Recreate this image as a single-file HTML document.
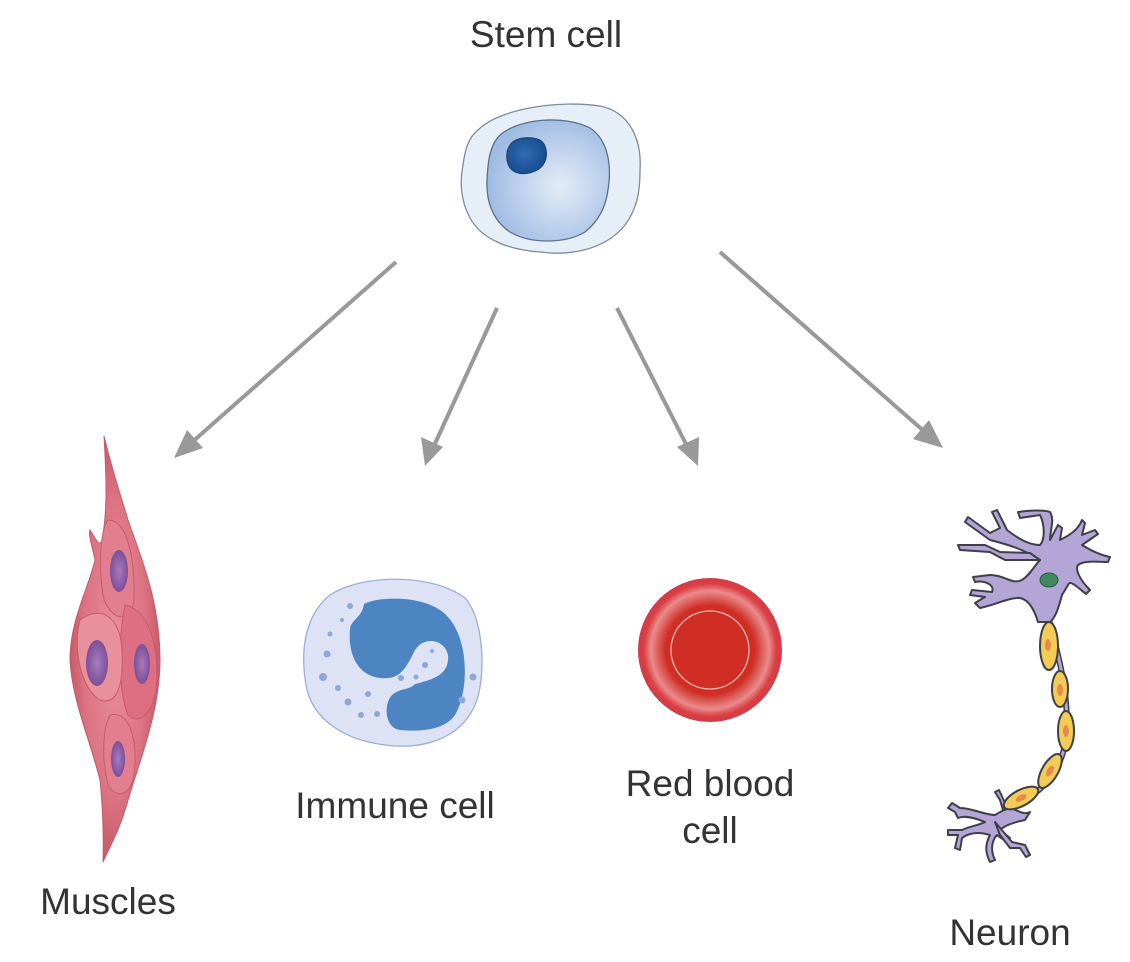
<!DOCTYPE html>
<html><head><meta charset="utf-8"><style>
html,body{margin:0;padding:0;background:#fff;}
svg{display:block;}
text{font-family:"Liberation Sans",sans-serif;font-size:37px;fill:#333;}
</style></head><body>
<svg width="1130" height="962" viewBox="0 0 1130 962" xmlns="http://www.w3.org/2000/svg">
<defs>
<radialGradient id="inner" cx="0.6" cy="0.55" r="0.6">
<stop offset="0" stop-color="#e3ecf8"/><stop offset="1" stop-color="#9ebbe2"/></radialGradient>
<radialGradient id="nuc" cx="0.45" cy="0.45" r="0.6">
<stop offset="0" stop-color="#2f6cb5"/><stop offset="1" stop-color="#174a8c"/></radialGradient>
<radialGradient id="rbc" cx="0.5" cy="0.5" r="0.5">
<stop offset="0" stop-color="#d02e24"/><stop offset="0.62" stop-color="#d02e24"/><stop offset="0.82" stop-color="#e98b8c"/><stop offset="0.92" stop-color="#da3f44"/><stop offset="1" stop-color="#d43a48"/></radialGradient>
<radialGradient id="mus" cx="0.5" cy="0.5" r="0.5">
<stop offset="0" stop-color="#e8909c"/><stop offset="0.7" stop-color="#dc7382"/><stop offset="1" stop-color="#c85a69"/></radialGradient>
<radialGradient id="mnuc" cx="0.5" cy="0.5" r="0.5">
<stop offset="0" stop-color="#a77bbd"/><stop offset="1" stop-color="#7d4f99"/></radialGradient>
</defs>

<text x="546" y="47" text-anchor="middle">Stem cell</text>
<path d="M478 130 C500 108,560 100,600 106 C630 112,642 140,640 170 C640 195,636 210,625 225 C605 250,570 256,540 252 C510 250,482 240,470 218 C460 200,460 180,463 165 C465 150,468 138,478 130 Z" fill="#e6eef8" stroke="#7f8b99" stroke-width="1.3"/>
<path d="M500 135 C520 118,565 115,590 128 C608 140,612 165,608 190 C606 205,600 220,585 232 C565 244,530 244,510 232 C492 220,486 200,487 180 C488 160,490 145,500 135 Z" fill="url(#inner)" stroke="#5c6f88" stroke-width="1.3"/>
<path d="M510 145 C515 137,530 136,540 140 C548 145,548 158,543 165 C538 172,525 176,515 172 C505 167,505 152,510 145 Z" fill="url(#nuc)" stroke="#1d3f6e" stroke-width="1"/>

<g stroke="#999" stroke-width="4" fill="#999">
<line x1="396" y1="262" x2="190" y2="444"/>
<line x1="497" y1="308" x2="433" y2="448"/>
<line x1="617" y1="308" x2="688" y2="448"/>
<line x1="720" y1="252" x2="926" y2="433"/>
</g>
<g fill="#999">
<polygon points="174,458 187,430 203,448"/>
<polygon points="425,466 421,437 443,447"/>
<polygon points="698,466 677,447 699,437"/>
<polygon points="943,448 913,439 929,420"/>
</g>

<path d="M104 436 C112 470,122 500,128 520 C140 555,160 600,160 660 C160 710,140 760,128 800 C120 830,108 850,103 862 C104 830,102 800,100 780 C90 740,72 700,70 660 C70 620,88 590,95 560 C92 545,88 535,90 530 C96 540,100 548,102 540 C108 510,106 470,104 436 Z" fill="url(#mus)" stroke="#c55a6a" stroke-width="1"/>
<path d="M108 520 C125 520,135 550,134 600 C132 620,115 625,104 600 C98 570,100 530,108 520 Z" fill="#e27f8f" stroke="#c55a6a" stroke-width="1"/>
<path d="M125 605 C150 610,160 650,156 690 C152 715,138 725,128 715 C118 690,118 640,125 605 Z" fill="#de6f82" stroke="#c55a6a" stroke-width="1"/>
<path d="M80 620 C100 605,120 615,122 650 C124 690,115 705,100 700 C82 690,72 650,80 620 Z" fill="#e8909c" stroke="#c55a6a" stroke-width="1"/>
<path d="M110 715 C130 710,138 740,134 775 C130 795,118 800,108 785 C102 760,102 730,110 715 Z" fill="#e27f8f" stroke="#c55a6a" stroke-width="1"/>
<ellipse cx="119" cy="571" rx="9" ry="21" fill="url(#mnuc)"/>
<ellipse cx="97" cy="663" rx="11" ry="23" fill="url(#mnuc)"/>
<ellipse cx="142" cy="664" rx="8" ry="20" fill="url(#mnuc)"/>
<ellipse cx="118" cy="759" rx="7" ry="18" fill="url(#mnuc)"/>
<text x="108" y="914" text-anchor="middle">Muscles</text>

<path d="M330 595 C360 575,430 572,465 598 C485 620,486 680,475 705 C460 740,420 750,385 745 C345 740,312 720,306 685 C300 650,305 615,330 595 Z" fill="#dde3f5" stroke="#9aaedc" stroke-width="1.3"/>
<path d="M364 604 C380 596,420 596,440 610 C470 630,470 690,455 715 C445 730,420 732,400 730 C385 728,383 705,392 695 C400 688,410 690,415 684 C430 680,450 676,448 655 C445 640,425 635,415 650 C405 670,400 680,380 678 C355 675,348 650,350 630 C350 620,362 618,364 604 Z" fill="#4d85c2"/>
<g fill="#8fa7d6">
<circle cx="350" cy="606" r="3"/><circle cx="330" cy="634" r="2.5"/><circle cx="327" cy="654" r="3.5"/><circle cx="323" cy="677" r="4"/><circle cx="338" cy="688" r="3"/><circle cx="348" cy="702" r="3.5"/><circle cx="361" cy="715" r="3"/><circle cx="368" cy="694" r="3"/><circle cx="377" cy="714" r="3"/><circle cx="401" cy="678" r="3"/><circle cx="416" cy="677" r="2.5"/><circle cx="425" cy="665" r="3"/><circle cx="432" cy="651" r="2"/><circle cx="473" cy="677" r="3.5"/><circle cx="462" cy="700" r="3.5"/><circle cx="342" cy="620" r="2"/>
</g>
<text x="395" y="818" text-anchor="middle">Immune cell</text>

<circle cx="710" cy="650" r="72" fill="url(#rbc)"/>
<circle cx="710" cy="650" r="39" fill="none" stroke="#f0b6b0" stroke-width="1.3"/>
<text x="710" y="796" text-anchor="middle">Red blood</text>
<text x="710" y="843" text-anchor="middle">cell</text>

<g stroke="#3f3f48" stroke-width="2" stroke-linejoin="round" fill="#b3a6d6">
<path d="M1049 620 C1060 660,1070 700,1066 740 C1060 775,1040 795,1008 808" fill="none" stroke="#3f3f48" stroke-width="6"/>
<path d="M1049 620 C1060 660,1070 700,1066 740 C1060 775,1040 795,1008 808" fill="none" stroke="#b3a6d6" stroke-width="3"/>
<path d="M1040 560 C1025 550,1010 545,990 540 L965 522 L968 517 L990 533 L1000 528 L992 512 L997 510 L1007 530 C1020 540,1030 545,1040 545 C1045 540,1045 525,1040 515 L1020 518 L1018 512 C1030 510,1045 510,1050 512 C1055 520,1050 530,1050 540 L1058 525 L1062 528 L1060 540 C1070 535,1078 530,1082 520 L1085 523 L1082 535 L1095 530 L1098 534 L1082 545 C1090 550,1100 555,1110 557 L1108 562 C1095 562,1085 560,1078 565 C1075 570,1080 580,1090 590 L1086 594 C1075 585,1070 580,1068 585 L1062 595 C1058 610,1055 618,1050 622 L1038 622 C1035 612,1030 600,1020 598 C1010 597,995 605,980 608 L975 603 L985 597 L970 595 L972 590 L992 592 C995 585,985 580,975 582 L973 577 L990 575 C1005 575,1012 585,1022 580 C1030 575,1035 565,1040 560 Z"/>
<path d="M1040 560 L1005 560 L990 552 L960 550 L958 545 L985 545 L1000 552 L1030 553 Z"/>
<path d="M1011 808 C1020 812,1025 815,1030 812 L1025 820 C1015 822,1005 825,1000 830 L1010 838 L1007 842 L997 835 C992 840,990 850,995 860 L990 862 C985 852,985 845,990 835 C980 832,970 832,962 838 L960 850 L955 848 L958 835 L948 835 L948 830 L962 830 C970 826,980 825,985 822 C975 818,965 815,958 818 L955 812 L948 808 L952 803 L960 808 C972 808,985 815,995 815 C1000 812,1005 809,1011 808 Z"/>
<path d="M995 822 L1012 842 L1025 845 L1030 855 L1026 857 L1020 848 L1010 848 L1000 835 Z"/>
<path d="M1003 810 L1000 800 L995 792 L999 790 L1006 805 Z"/>
</g>
<g stroke="#3f3f48" stroke-width="2" fill="#f3cc55">
<ellipse cx="1049" cy="646" rx="9" ry="24"/>
<ellipse cx="1060" cy="689" rx="8" ry="18"/>
<ellipse cx="1066" cy="731" rx="8" ry="20"/>
<ellipse cx="1050" cy="771" rx="8" ry="19" transform="rotate(30 1050 771)"/>
<ellipse cx="1021" cy="798" rx="8" ry="19" transform="rotate(62 1021 798)"/>
</g>
<g fill="#e98a4d">
<ellipse cx="1048" cy="645" rx="3" ry="6"/><ellipse cx="1060" cy="690" rx="3" ry="6"/><ellipse cx="1066" cy="731" rx="3" ry="6"/><ellipse cx="1050" cy="771" rx="3" ry="6" transform="rotate(30 1050 771)"/><ellipse cx="1021" cy="798" rx="6" ry="3" transform="rotate(-28 1021 798)"/>
</g>
<ellipse cx="1049" cy="580" rx="9" ry="7" fill="#3e8a5e" stroke="#2c5a40" stroke-width="1"/>
<text x="1010" y="945" text-anchor="middle">Neuron</text>
</svg>
</body></html>
